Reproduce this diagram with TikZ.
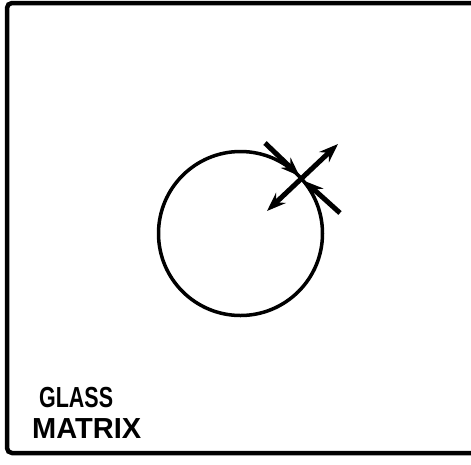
\documentclass[tikz,border=0pt]{standalone}
\usepackage{fontspec}
\setmainfont{Liberation Sans}
\usetikzlibrary{arrows.meta}
\tikzset{
  frame/.style={line width=4.5pt, rounded corners=5pt},
  ring/.style={line width=3.5pt},
  force/.style={line width=5pt, -{Stealth[length=19pt,width=14pt]}},
  dforce/.style={line width=5pt, {Stealth[length=19pt,width=14pt]}-{Stealth[length=19pt,width=14pt]}},
  label/.style={font=\bfseries\fontsize{29}{29}\selectfont, inner sep=0pt, anchor=base west}
}
\begin{document}
\begin{tikzpicture}[x=1pt,y=-1pt]
\useasboundingbox (0,0) rectangle (471,464);
\draw[frame] (475,3) -- (7,3) -- (7,453) -- (475,453);
\coordinate (C) at (240.5,233.5);
\draw[ring] (C) circle (82);
\coordinate (P) at (301.5,178);
\coordinate (T1) at (265,143);
\coordinate (T2) at (340,213);
\coordinate (R1) at (267,211);
\coordinate (R2) at (338,144);
\coordinate (P1) at (299.5,176);
\coordinate (P2) at (304.5,181);
\draw[dforce] (R1) -- (R2);
\draw[force] (T1) -- (P1);
\draw[force] (T2) -- (P2);
\node[label, xscale=0.74] (g) at (39,407.5) {GLASS};
\node[label] (m) at (32,438.5) {MATRIX};
\end{tikzpicture}
\end{document}
